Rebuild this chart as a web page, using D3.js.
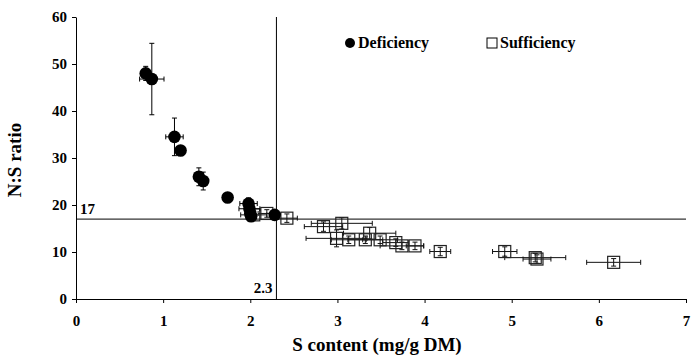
<!DOCTYPE html>
<html>
<head>
<meta charset="utf-8">
<script src="https://cdn.jsdelivr.net/npm/d3@7"></script>
<style>
  body { margin: 0; background: #fff; }
  svg text { font-family: "Liberation Serif", "Times New Roman", Times, "DejaVu Serif", serif !important; font-weight: bold; fill: #000; }
</style>
</head>
<body>
<svg id="chart"></svg>
<script>
// data
const defX = [0.80, 0.87, 1.13, 1.20, 1.41, 1.46, 1.74, 1.98, 1.99, 2.00, 2.01, 2.28];
const defY = [48.0, 46.8, 34.5, 31.6, 26.0, 25.1, 21.6, 20.3, 19.2, 18.2, 17.6, 17.9];
const defXErr = [0.05, 0.14, 0.10, 0.03, 0.05, 0.04, 0.02, 0.10, 0.12, 0.05, 0.03, 0.03];
const defYErr = [1.5, 7.6, 4.0, 0.5, 1.9, 1.9, 0.5, 1.2, 1.0, 0.8, 0.5, 0.4];

const sufX = [2.04, 2.19, 2.42, 2.84, 3.05, 2.99, 3.13, 3.32, 3.37, 3.49, 3.67, 3.74, 3.89, 4.18, 4.92, 5.27, 5.29, 6.17];
const sufY = [17.9, 18.2, 17.2, 15.4, 16.1, 12.9, 12.6, 12.6, 14.0, 12.6, 12.0, 11.3, 11.3, 10.1, 10.1, 8.8, 8.5, 7.8];
const sufXErr = [0.15, 0.10, 0.12, 0.22, 0.35, 0.35, 0.20, 0.20, 0.30, 0.20, 0.15, 0.25, 0.10, 0.12, 0.14, 0.35, 0.16, 0.31];
const sufYErr = [0.8, 0.8, 0.9, 1.0, 1.2, 1.8, 0.8, 0.8, 1.2, 0.8, 0.8, 0.8, 0.8, 0.9, 1.0, 0.9, 0.9, 0.8];

const xTicks = [0, 1, 2, 3, 4, 5, 6, 7];
const yTicks = [0, 10, 20, 30, 40, 50, 60];
const thresholdS = 2.3;
const thresholdNS = 17;

const W = 691, H = 358;
const margin = {top: 17, right: 5, bottom: 59, left: 76};
const width = W - margin.left - margin.right;
const height = H - margin.top - margin.bottom;
const serif = "Liberation Serif";

const svg = d3.select("#chart").attr("width", W).attr("height", H);
const g = svg.append("g").attr("transform", "translate(" + margin.left + "," + margin.top + ")");

const x = d3.scaleLinear().domain([0, 7]).range([0, width]);
const y = d3.scaleLinear().domain([0, 60]).range([height, 0]);

//axes
const xAxis = g.append("g")
  .attr("transform", "translate(0," + height + ")")
  .call(d3.axisBottom(x).tickValues(xTicks).tickFormat(d3.format("d")).tickSize(4).tickPadding(12).tickSizeOuter(0));
const yAxis = g.append("g")
  .call(d3.axisLeft(y).tickValues(yTicks).tickFormat(d3.format("d")).tickSize(4).tickPadding(5).tickSizeOuter(0));
[xAxis, yAxis].forEach(a => {
  a.attr("font-family", serif).attr("font-size", 15);
  a.selectAll("path, line").attr("stroke", "#000");
  a.selectAll("text").attr("font-weight", "bold").attr("fill", "#000");
});

//threshold lines
g.append("line")
  .attr("x1", 0).attr("x2", width)
  .attr("y1", y(thresholdNS)).attr("y2", y(thresholdNS))
  .attr("stroke", "#000").attr("stroke-width", 1);
g.append("line")
  .attr("x1", x(thresholdS)).attr("x2", x(thresholdS))
  .attr("y1", 0).attr("y2", height)
  .attr("stroke", "#000").attr("stroke-width", 1);
g.append("text").text(thresholdNS)
  .attr("x", 4).attr("y", y(thresholdNS) - 5)
  .attr("font-family", serif).attr("font-size", 15);
g.append("text").text(thresholdS)
  .attr("x", x(thresholdS) - 4).attr("y", height - 6)
  .attr("text-anchor", "end").attr("font-family", serif).attr("font-size", 15);

// error bars helper
function errorBars(xs, ys, xe, ye, color) {
  const eb = g.append("g").attr("stroke", color).attr("stroke-width", 1).attr("fill", "none");
  xs.forEach((v, i) => {
    const cx = x(v), cy = y(ys[i]);
    const x0 = x(v - xe[i]), x1 = x(v + xe[i]);
    const y0 = y(ys[i] - ye[i]), y1 = y(ys[i] + ye[i]);
    eb.append("line").attr("x1", x0).attr("x2", x1).attr("y1", cy).attr("y2", cy);
    eb.append("line").attr("x1", x0).attr("x2", x0).attr("y1", cy - 2.5).attr("y2", cy + 2.5);
    eb.append("line").attr("x1", x1).attr("x2", x1).attr("y1", cy - 2.5).attr("y2", cy + 2.5);
    eb.append("line").attr("x1", cx).attr("x2", cx).attr("y1", y0).attr("y2", y1);
    eb.append("line").attr("x1", cx - 2.5).attr("x2", cx + 2.5).attr("y1", y0).attr("y2", y0);
    eb.append("line").attr("x1", cx - 2.5).attr("x2", cx + 2.5).attr("y1", y1).attr("y2", y1);
  });
}

//sufficiency squares
errorBars(sufX, sufY, sufXErr, sufYErr, "#111");
g.append("g").selectAll("rect")
  .data(sufX)
  .enter()
  .append("rect")
  .attr("x", (d) => x(d) - 6)
  .attr("y", (d, i) => y(sufY[i]) - 6)
  .attr("width", 12).attr("height", 12)
  .attr("fill", "none")
  .attr("stroke", "#222").attr("stroke-width", 1.2);

//deficiency dots
errorBars(defX, defY, defXErr, defYErr, "#000");
g.append("g").selectAll("circle")
  .data(defX)
  .enter()
  .append("circle")
  .attr("cx", (d) => x(d))
  .attr("cy", (d, i) => y(defY[i]))
  .attr("r", 6.3)
  .attr("fill", "#000");

//legend
const leg = svg.append("g");
leg.append("circle").attr("cx", 350).attr("cy", 43).attr("r", 5).attr("fill", "#000");
leg.append("text").text("Deficiency").attr("x", 358).attr("y", 48)
  .attr("font-family", serif).attr("font-size", 16);
leg.append("rect").attr("x", 487).attr("y", 38).attr("width", 10).attr("height", 10)
  .attr("fill", "none").attr("stroke", "#000").attr("stroke-width", 1);
leg.append("text").text("Sufficiency").attr("x", 500).attr("y", 48)
  .attr("font-family", serif).attr("font-size", 16);

//axis titles
svg.append("text").text("S content (mg/g DM)")
  .attr("x", 377).attr("y", 351)
  .attr("text-anchor", "middle").attr("font-family", serif).attr("font-size", 19);
svg.append("text").text("N:S ratio")
  .attr("transform", "translate(21," + 160 + ") rotate(-90)")
  .attr("text-anchor", "middle").attr("font-family", serif).attr("font-size", 19);
</script>
</body>
</html>
